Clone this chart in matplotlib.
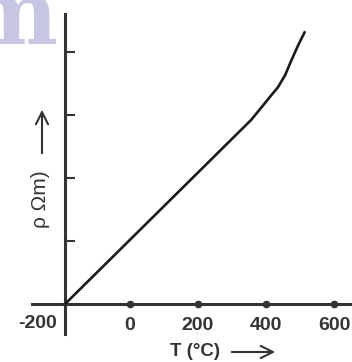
import matplotlib
matplotlib.use("Agg")
import matplotlib.pyplot as plt

# resistivity vs temperature (arbitrary rho units, 1 unit per tick)
temp_c = [-191, 356, 388, 412, 435, 456, 474, 494, 515]
rho = [0.0, 2.92, 3.13, 3.29, 3.44, 3.63, 3.86, 4.10, 4.33]
xticks = [0, 200, 400, 600]
xtick_labels = ["0", "200", "400", "600"]
yticks = [1, 2, 3, 4]

W, H = 352, 362
px_per_deg = 68 / 200
px_per_unit = 63
x0_px, y0_px = 130, 304  # pixel of T=0, rho=0


def tx(px):
    return (px - x0_px) / px_per_deg


def ty(py):
    return (y0_px - py) / px_per_unit


fig = plt.figure(figsize=(W / 100, H / 100), dpi=100)
ax = fig.add_axes([0, 0, 1, 1])
ax.set_xlim(tx(0), tx(W))
ax.set_ylim(ty(H), ty(0))

axis_col = "#333333"
for s in ["top", "right"]:
    ax.spines[s].set_visible(False)
ax.spines["left"].set_position(("data", temp_c[0]))
ax.spines["left"].set_bounds(ty(334), ty(14))
ax.spines["bottom"].set_position(("data", 0))
ax.spines["bottom"].set_bounds(tx(32), tx(W))
for s in ["left", "bottom"]:
    ax.spines[s].set_linewidth(2.2)
    ax.spines[s].set_color(axis_col)

ax.set_yticks(yticks)
ax.set_yticklabels([])
ax.tick_params(axis="y", direction="in", length=7, width=1.5, color=axis_col)
ax.set_xticks(xticks)
ax.set_xticklabels(xtick_labels, fontsize=14, fontweight="bold",
                   family="Liberation Sans", color="#333333")
ax.tick_params(axis="x", length=0, pad=9)
ax.plot(xticks, [0] * len(xticks), "o", color=axis_col, ms=4.5, zorder=5)

ax.plot(temp_c, rho, color="#1a1a1a", lw=1.9, solid_capstyle="butt",
        solid_joinstyle="round", zorder=4)

ax.text(tx(57), ty(323), "-200", ha="right", va="center", fontsize=14,
        fontweight="bold", family="Liberation Sans", color="#333333")

# axis titles with arrows
fig.text(195 / W, 1 - 351 / H, "T (°C)", ha="center", va="center", fontsize=13.5,
         fontweight="bold", family="Liberation Sans", color="#333333")
ax.annotate("", xy=(278, H - 352), xytext=(229, H - 352), xycoords="figure pixels",
            arrowprops=dict(arrowstyle="->", lw=1.5, color="#333333", mutation_scale=22))
fig.text(40 / W, 1 - 199 / H, "ρ Ωm)", ha="center", va="center", rotation=90,
         fontsize=15, family="Liberation Sans", color="#333333")
ax.annotate("", xy=(42, H - 107), xytext=(42, H - 156), xycoords="figure pixels",
            arrowprops=dict(arrowstyle="->", lw=1.5, color="#333333", mutation_scale=22))

# faint watermark letter in the corner
fig.text(58 / W, 1 - 44 / H, "m", ha="right", va="baseline", fontsize=64,
         family="DejaVu Serif", fontweight="bold", color="#c6c6e2", zorder=0)

fig.savefig("out.png", dpi=100)
